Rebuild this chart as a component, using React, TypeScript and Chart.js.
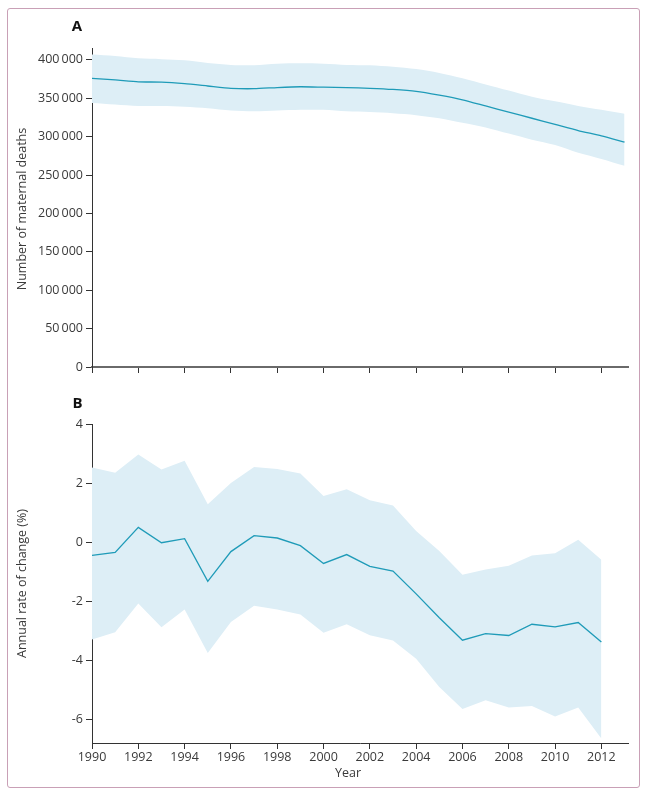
import React, { useEffect, useRef } from 'react';
import { Chart, registerables } from 'chart.js';
Chart.register(...registerables);

const years = [1990, 1991, 1992, 1993, 1994, 1995, 1996, 1997, 1998, 1999, 2000, 2001, 2002, 2003, 2004, 2005, 2006, 2007, 2008, 2009, 2010, 2011, 2012, 2013];
const deathsMean = [376000, 374000, 371500, 371000, 369000, 366000, 363000, 362500, 364000, 365000, 364500, 364000, 363000, 361500, 359000, 354000, 348000, 340000, 332000, 324000, 316000, 308000, 301000, 293000];
const deathsUpper = [407000, 405000, 402000, 401000, 399500, 396000, 393500, 393000, 395000, 395500, 395000, 393500, 393000, 391000, 388000, 383000, 376000, 368000, 360000, 352000, 346000, 340000, 335000, 330000];
const deathsLower = [344000, 342000, 340000, 340000, 339000, 337000, 334000, 333000, 334000, 335000, 335000, 333000, 332000, 330500, 328000, 324000, 318000, 312000, 304000, 296000, 289000, 279000, 271000, 262000];

const rateYears = [1990, 1991, 1992, 1993, 1994, 1995, 1996, 1997, 1998, 1999, 2000, 2001, 2002, 2003, 2004, 2005, 2006, 2007, 2008, 2009, 2010, 2011, 2012];
const rateMean = [-0.45, -0.35, 0.5, -0.02, 0.12, -1.33, -0.32, 0.22, 0.14, -0.12, -0.72, -0.42, -0.82, -0.98, -1.75, -2.56, -3.32, -3.1, -3.16, -2.78, -2.87, -2.72, -3.38];
const rateUpper = [2.53, 2.35, 2.97, 2.46, 2.76, 1.28, 2.0, 2.54, 2.48, 2.32, 1.56, 1.79, 1.42, 1.24, 0.38, -0.3, -1.1, -0.93, -0.8, -0.45, -0.38, 0.08, -0.6];
const rateLower = [-3.3, -3.05, -2.08, -2.88, -2.28, -3.75, -2.7, -2.15, -2.28, -2.45, -3.07, -2.78, -3.15, -3.33, -3.95, -4.9, -5.65, -5.35, -5.6, -5.55, -5.9, -5.6, -6.65];

const yearTicks = [1990, 1992, 1994, 1996, 1998, 2000, 2002, 2004, 2006, 2008, 2010, 2012];
const deathTicks = [0, 50000, 100000, 150000, 200000, 250000, 300000, 350000, 400000];
const rateTicks = [-6, -4, -2, 0, 2, 4];

const FONT = '"Open Sans", "Noto Sans", sans-serif';
const TEXT = '#3a3a3a';
const AXIS = '#333333';
const LINE = '#1f9bb8';
const BAND = '#ddeef6';

const fmtThousands = (v: number) => {
  if (v === 0) return '0';
  const s = String(v);
  return s.slice(0, s.length - 3) + '\u2009' + s.slice(s.length - 3);
};

const pts = (xs: number[], ys: number[]) => xs.map((x, i) => ({ x, y: ys[i] }));

function textPlugin(items: { text: string; x: number; y: number; rot?: boolean; bold?: boolean; size?: number }[]) {
  return {
    id: 'texts',
    afterDraw(chart: any) {
      const ctx = chart.ctx;
      ctx.save();
      ctx.textAlign = 'center';
      ctx.textBaseline = 'middle';
      for (const it of items) {
        ctx.font = `${it.bold ? 'bold ' : ''}${it.size || 12}px ${FONT}`;
        ctx.save();
        ctx.translate(it.x, it.y);
        if (it.rot) ctx.rotate(-Math.PI / 2);
        ctx.fillStyle = it.bold ? '#111' : TEXT;
        ctx.fillText(it.text, 0, 0);
        ctx.restore();
      }
      ctx.restore();
    },
  };
}

const xScale = (showLabels: boolean, height: number, borderColor: string, borderWidth: number) => ({
  type: 'linear',
  min: 1990,
  max: 2013.15,
  afterBuildTicks: (s: any) => {
    s.ticks = yearTicks.map((v) => ({ value: v }));
  },
  afterFit: (s: any) => {
    s.height = height;
  },
  ticks: {
    display: showLabels,
    font: { family: FONT, size: 12.5 },
    color: TEXT,
    padding: 1,
    maxRotation: 0,
    autoSkip: false,
    callback: (v: any) => String(v),
  },
  grid: { display: true, drawOnChartArea: false, drawTicks: true, tickLength: 6, color: AXIS, lineWidth: 1 },
  border: { display: true, color: borderColor, width: borderWidth },
});

export default function App() {
  const refA = useRef<HTMLCanvasElement>(null);
  const refB = useRef<HTMLCanvasElement>(null);

  useEffect(() => {
    const chartA = new Chart(refA.current as HTMLCanvasElement, {
      type: 'line',
      data: {
        datasets: [
          { data: pts(years, deathsMean), fill: false, borderColor: LINE, borderWidth: 1.3, pointRadius: 0, tension: 0.2 },
          { data: pts(years, deathsUpper), fill: '+1', backgroundColor: BAND, borderWidth: 0, pointRadius: 0, tension: 0.3 },
          { data: pts(years, deathsLower), fill: false, borderWidth: 0, pointRadius: 0, tension: 0.3 },
        ],
      } as any,
      plugins: [
        textPlugin([
          { text: 'A', x: 77, y: 27, bold: true, size: 15 },
          { text: 'Number of maternal deaths', x: 22, y: 209, rot: true, size: 12.5 },
        ]),
      ],
      options: {
        animation: false,
        responsive: false,
        maintainAspectRatio: false,
        layout: { padding: { left: 0, top: 48, right: 21, bottom: 0 } },
        plugins: { legend: { display: false }, tooltip: { enabled: false } },
        scales: {
          x: xScale(false, 23, '#6a6a6a', 2) as any,
          y: {
            min: 0,
            max: 415500,
            afterBuildTicks: (s: any) => {
              s.ticks = deathTicks.map((v) => ({ value: v }));
            },
            afterFit: (s: any) => {
              s.width = 92;
            },
            ticks: { font: { family: FONT, size: 12.5 }, color: TEXT, padding: 3, callback: (v: any) => fmtThousands(Number(v)) },
            grid: { display: true, drawOnChartArea: false, drawTicks: true, tickLength: 6, color: AXIS, lineWidth: 1 },
            border: { display: true, color: AXIS, width: 1 },
          },
        },
      } as any,
    });

    const chartB = new Chart(refB.current as HTMLCanvasElement, {
      type: 'line',
      data: {
        datasets: [
          { data: pts(rateYears, rateMean), fill: false, borderColor: LINE, borderWidth: 1.3, pointRadius: 0 },
          { data: pts(rateYears, rateUpper), fill: '+1', backgroundColor: BAND, borderWidth: 0, pointRadius: 0 },
          { data: pts(rateYears, rateLower), fill: false, borderWidth: 0, pointRadius: 0 },
        ],
      } as any,
      plugins: [
        textPlugin([
          { text: 'B', x: 77.5, y: 14, bold: true, size: 15 },
          { text: 'Annual rate of change (%)', x: 22, y: 193.5, rot: true, size: 12.5 },
          { text: 'Year', x: 348, y: 383, size: 12.5 },
        ]),
      ],
      options: {
        animation: false,
        responsive: false,
        maintainAspectRatio: false,
        layout: { padding: { left: 0, top: 34, right: 21, bottom: 0 } },
        plugins: { legend: { display: false }, tooltip: { enabled: false } },
        scales: {
          x: xScale(true, 54, AXIS, 1) as any,
          y: {
            min: -6.8,
            max: 4,
            afterBuildTicks: (s: any) => {
              s.ticks = rateTicks.map((v) => ({ value: v }));
            },
            afterFit: (s: any) => {
              s.width = 92;
            },
            ticks: { font: { family: FONT, size: 12.5 }, color: TEXT, padding: 3, callback: (v: any) => String(v) },
            grid: { display: true, drawOnChartArea: false, drawTicks: true, tickLength: 6, color: AXIS, lineWidth: 1 },
            border: { display: true, color: AXIS, width: 1 },
          },
        },
      } as any,
    });

    return () => {
      chartA.destroy();
      chartB.destroy();
    };
  }, []);

  return (
    <div style={{ position: 'absolute', left: 0, top: 0, width: 649, height: 797, background: '#fff' }}>
      <div
        style={{
          position: 'absolute',
          left: 7,
          top: 8,
          width: 633,
          height: 780,
          border: '1.5px solid #c9a0b6',
          borderRadius: 3,
          boxSizing: 'border-box',
        }}
      />
      <canvas ref={refA} width={649} height={390} style={{ position: 'absolute', left: 0, top: 0, width: 649, height: 390 }} />
      <canvas ref={refB} width={649} height={407} style={{ position: 'absolute', left: 0, top: 390, width: 649, height: 407 }} />
    </div>
  );
}
